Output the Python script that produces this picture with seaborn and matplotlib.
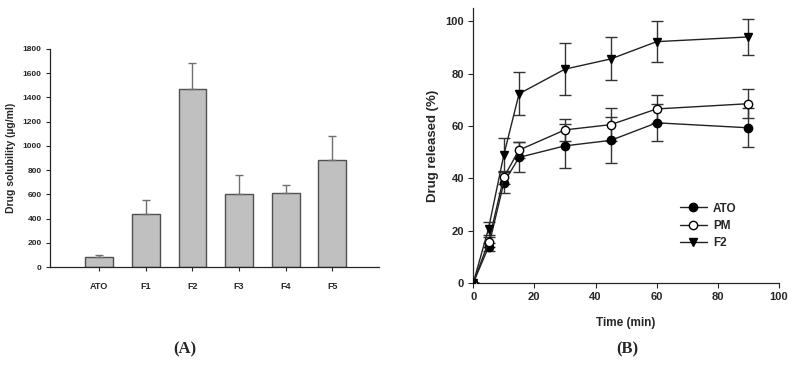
import matplotlib.pyplot as plt
import numpy as np
import pandas as pd
import seaborn as sns

# Panel A: drug solubility
formulations = ["ATO", "F1", "F2", "F3", "F4", "F5"]
solubility = [85, 435, 1470, 600, 608, 880]
solubility_err = [12, 120, 215, 160, 72, 205]

# Panel B: release profile
time_min = [0, 5, 10, 15, 30, 45, 60, 90]
ato_release = [0, 13.8, 38.3, 48.0, 52.4, 54.5, 61.2, 59.3]
ato_err = [0, 1.5, 4.0, 5.7, 8.4, 8.8, 7.0, 7.5]
pm_release = [0, 15.7, 40.4, 50.8, 58.5, 60.5, 66.5, 68.5]
pm_err = [0, 2.0, 2.5, 3.2, 4.3, 6.4, 5.5, 5.6]
f2_release = [0, 20.8, 48.9, 72.3, 81.7, 85.6, 92.2, 94.0]
f2_err = [0, 2.5, 6.4, 8.2, 9.8, 8.2, 7.8, 6.9]

sns.set_style("ticks")
plt.rcParams["font.family"] = ["Liberation Sans", "DejaVu Sans"]

fig = plt.figure(figsize=(7.94, 3.70), dpi=100)
ax_a = fig.add_axes([0.063, 0.278, 0.414, 0.590])
ax_b = fig.add_axes([0.596, 0.235, 0.385, 0.743])

# ---- Panel A ----
df_a = pd.DataFrame({"Formulation": formulations, "Solubility": solubility})
sns.barplot(data=df_a, x="Formulation", y="Solubility", ax=ax_a,
            color="#c0c0c0", edgecolor="#505050", linewidth=1.0,
            width=0.6, errorbar=None, saturation=1)
ax_a.errorbar(np.arange(len(formulations)), solubility,
              yerr=[np.zeros(len(solubility_err)), solubility_err],
              fmt="none", ecolor="#707070", elinewidth=1.0,
              capsize=3, capthick=1.0)
ax_a.set_xlim(-1.06, 6.0)
ax_a.set_ylim(0, 1800)
ax_a.set_yticks(np.arange(0, 1801, 200))
ax_a.set_xlabel("")
ax_a.set_ylabel("Drug solubility (\u00b5g/ml)", fontsize=7.5,
                fontweight="bold", labelpad=5)
for lbl in ax_a.get_xticklabels() + ax_a.get_yticklabels():
    lbl.set_fontweight("bold")
ax_a.tick_params(axis="both", labelsize=6, length=3, width=0.8, pad=3)
ax_a.tick_params(axis="x", labelsize=6.5, pad=8)
sns.despine(ax=ax_a)
for sp in ["left", "bottom"]:
    ax_a.spines[sp].set_linewidth(0.9)

# ---- Panel B ----
series = [("ATO", ato_release, ato_err, "o", "black"),
          ("PM", pm_release, pm_err, "o", "white"),
          ("F2", f2_release, f2_err, "v", "black")]
for name, vals, err, mk, fc in series:
    ax_b.errorbar(time_min, vals, yerr=err, fmt="none", ecolor="#333333",
                  elinewidth=1.0, capsize=4.5, capthick=1.0, zorder=2)
    df_b = pd.DataFrame({"Time": time_min, "Release": vals})
    sns.lineplot(data=df_b, x="Time", y="Release", ax=ax_b, color="#222222",
                 linewidth=1.0, marker=mk, markersize=6,
                 markerfacecolor=fc, markeredgecolor="black",
                 markeredgewidth=1.0, label=name, zorder=3)

ax_b.set_xlim(0, 100)
ax_b.set_ylim(0, 105)
ax_b.set_xticks(np.arange(0, 101, 20))
ax_b.set_yticks(np.arange(0, 101, 20))
ax_b.set_xlabel("Time (min)", fontsize=8.5, fontweight="bold", labelpad=11)
ax_b.set_ylabel("Drug released (%)", fontsize=9.5, fontweight="bold",
                labelpad=5)
for lbl in ax_b.get_xticklabels() + ax_b.get_yticklabels():
    lbl.set_fontweight("bold")
ax_b.tick_params(axis="both", labelsize=8, length=3.5, width=0.8, pad=3)
sns.despine(ax=ax_b)
for sp in ["left", "bottom"]:
    ax_b.spines[sp].set_linewidth(0.9)

leg = ax_b.legend(loc="upper left", bbox_to_anchor=(0.66, 0.31),
                  frameon=False, fontsize=8.5, handlelength=2.3,
                  handletextpad=0.5, labelspacing=0.45, borderaxespad=0)
for t in leg.get_texts():
    t.set_fontweight("bold")

# Panel labels
fig.text(0.233, 0.055, "(A)", ha="center", va="center", fontsize=12,
         fontweight="bold", family=["Liberation Serif", "DejaVu Serif"])
fig.text(0.79, 0.055, "(B)", ha="center", va="center", fontsize=12,
         fontweight="bold", family=["Liberation Serif", "DejaVu Serif"])

fig.savefig("out.png", dpi=100)
